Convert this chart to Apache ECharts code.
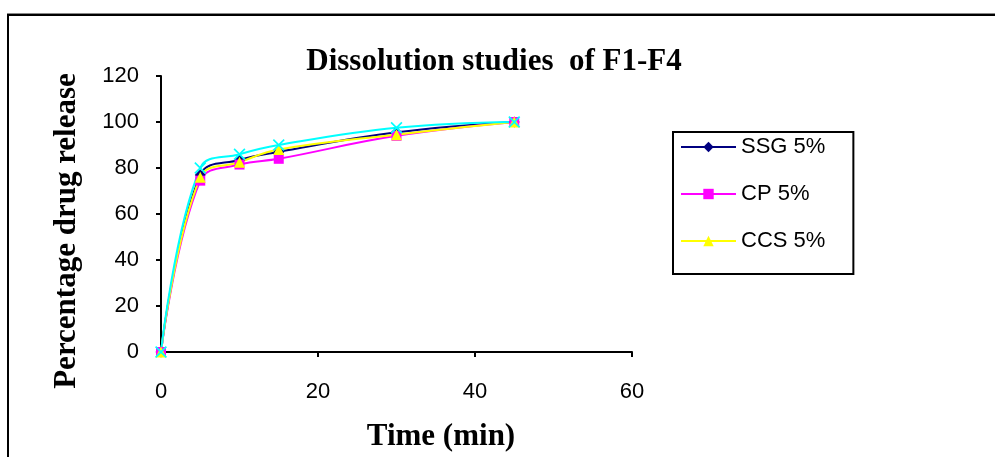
<!DOCTYPE html>
<html>
<head>
<meta charset="utf-8">
<script src="https://cdn.jsdelivr.net/npm/echarts@6/dist/echarts.min.js"></script>
<style>
  html, body { margin: 0; padding: 0; background: #fff; }
  #main { width: 995px; height: 457px; }
</style>
</head>
<body>
<div id="main"></div>
<script>
// time points (min)
const timePoints = [0, 5, 10, 15, 30, 45];
// percentage drug release
const ssg5 = [0, 77, 83.5, 87, 95.5, 100];
const cp5 = [0, 74.5, 81.5, 84, 94, 100];
const ccs5 = [0, 76, 82.5, 88, 94.5, 100];
const extra = [0, 80, 86, 90, 97.5, 100];
const legendNames = ["SSG 5%", "CP 5%", "CCS 5%"];

const pairs = vals => timePoints.map((t, i) => [t, vals[i]]);
const xMark = "path://M0,1L1,0L5,4L9,0L10,1L6,5L10,9L9,10L5,6L1,10L0,9L4,5Z";
const serifBold = { fontFamily: "Liberation Serif", fontWeight: "bold", fontSize: 31, fill: "#000" };

function lineSeries(name, vals, color, symbol, size) {
    return {
        name: name,
        type: "line",
        data: pairs(vals),
        smooth: 0.4,
        symbol: symbol,
        symbolSize: size,
        showSymbol: true,
        lineStyle: { color: color, width: 2 },
        itemStyle: { color: color },
        emphasis: { disabled: true },
    };
}

const chart = echarts.init(document.getElementById("main"));
chart.setOption({
    animation: false,
    backgroundColor: "#fff",
    graphic: [
        {
            type: "rect",
            shape: { x: 8, y: 15, width: 1100, height: 600 },
            style: { fill: "none", stroke: "#000", lineWidth: 2, shadowColor: "#888", shadowOffsetY: -1 },
        },
        // axis titles
        {
            type: "text",
            x: 441, y: 437,
            style: Object.assign({ text: "Time (min)", align: "center", verticalAlign: "middle" }, serifBold),
        },
        {
            type: "text",
            x: 67, y: 231,
            rotation: Math.PI / 2,
            style: Object.assign({ text: "Percentage drug release", align: "center", verticalAlign: "middle" }, serifBold),
        },
    ],
    title: {
        text: "Dissolution studies  of F1-F4",
        left: 489,
        top: 41,
        textAlign: "center",
        textStyle: { fontFamily: "Liberation Serif", fontWeight: "bold", fontSize: 31, color: "#000" },
    },
    legend: {
        data: legendNames,
        orient: "vertical",
        left: 673,
        top: 132,
        padding: [4, 28, 22, 7],
        itemGap: 25,
        itemWidth: 55,
        itemHeight: 13,
        borderColor: "#000",
        borderWidth: 2,
        textStyle: { fontFamily: "Liberation Sans", fontSize: 22, color: "#000" },
    },
    grid: { left: 161, right: 363, top: 76, bottom: 105 },
    xAxis: {
        type: "value",
        min: 0,
        max: 60,
        interval: 20,
        axisLine: { lineStyle: { color: "#000", width: 2 } },
        axisTick: { show: true, length: 5, lineStyle: { color: "#000", width: 2 } },
        axisLabel: { margin: 29, fontFamily: "Liberation Sans", fontSize: 22, color: "#000" },
        splitLine: { show: false },
    },
    yAxis: {
        type: "value",
        min: 0,
        max: 120,
        interval: 20,
        axisLine: { show: true, lineStyle: { color: "#000", width: 2 } },
        axisTick: { show: true, length: 5, lineStyle: { color: "#000", width: 2 } },
        axisLabel: { margin: 22, fontFamily: "Liberation Sans", fontSize: 22, color: "#000" },
        splitLine: { show: false },
    },
    series: [
        lineSeries(legendNames[0], ssg5, "#000080", "diamond", 11),
        lineSeries(legendNames[1], cp5, "#ff00ff", "rect", 10),
        lineSeries(legendNames[2], ccs5, "#ffff00", "triangle", 11),
        lineSeries("Series 4", extra, "#00ffff", xMark, 12),
    ],
});
</script>
</body>
</html>
